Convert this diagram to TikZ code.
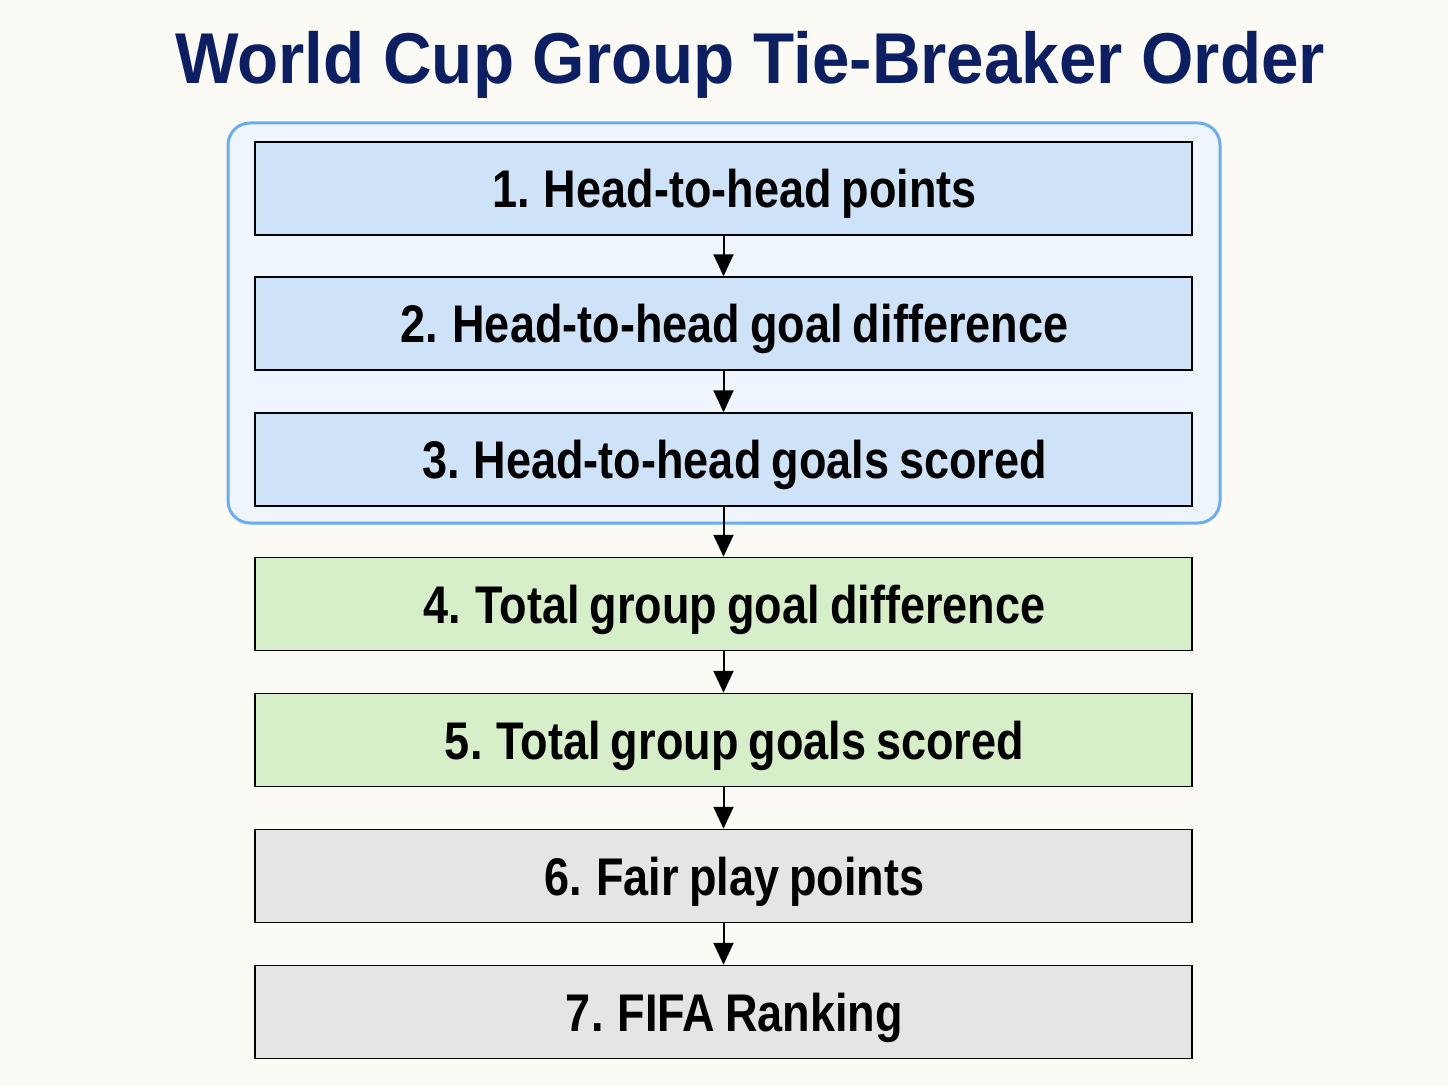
\documentclass[tikz,border=0pt]{standalone}
\usepackage{fontspec}
\setmainfont{Liberation Sans}
\newfontfamily\boxfont[FakeStretch=0.85,WordSpace=0.8]{Liberation Sans}
\newfontfamily\titlefont[FakeStretch=0.935]{Liberation Sans}
\usetikzlibrary{arrows.meta}
\definecolor{bgc}{HTML}{FBFAF4}
\definecolor{navy}{HTML}{0D1F63}
\definecolor{bluef}{HTML}{CFE3F8}
\definecolor{greenf}{HTML}{D6EFC9}
\definecolor{grayf}{HTML}{E5E5E5}
\definecolor{grpline}{HTML}{6AAEF0}
\definecolor{grpfill}{HTML}{EEF5FC}
\begin{document}
\begin{tikzpicture}[x=1pt,y=-1pt,
  stepbox/.style={draw=black, line width=1.5pt, minimum width=937pt, minimum height=93pt,
    inner sep=0pt, text height=38pt, text depth=0pt,
    execute at begin node={\hspace*{22pt}},
    font=\boxfont\bfseries\fontsize{53}{60}\selectfont},
  flow/.style={line width=2pt, -{Triangle[width=20pt,length=22pt]}}]
\fill[bgc] (0,0) rectangle (1448,1086);
\useasboundingbox (0,0) rectangle (1448,1086);
\node[font=\titlefont\bfseries\fontsize{72}{80}\selectfont, text=navy, anchor=base] (title) at (750,84) {World Cup Group Tie-Breaker Order};
\draw[grpline, fill=grpfill, line width=3pt, rounded corners=22pt] (228,123) rectangle (1220,523);
\node[stepbox, fill=bluef] (b1) at (723.5,188.5) {1. Head-to-head points};
\node[stepbox, fill=bluef] (b2) at (723.5,323.5) {2. Head-to-head goal difference};
\node[stepbox, fill=bluef] (b3) at (723.5,459.5) {3. Head-to-head goals scored};
\node[stepbox, fill=greenf] (b4) at (723.5,604) {4. Total group goal difference};
\node[stepbox, fill=greenf] (b5) at (723.5,740) {5. Total group goals scored};
\node[stepbox, fill=grayf] (b6) at (723.5,876) {6. Fair play points};
\node[stepbox, fill=grayf] (b7) at (723.5,1012) {7. FIFA Ranking};
\draw[flow] (b1) -- (b2);
\draw[flow] (b2) -- (b3);
\draw[flow] (b3) -- (b4);
\draw[flow] (b4) -- (b5);
\draw[flow] (b5) -- (b6);
\draw[flow] (b6) -- (b7);
\end{tikzpicture}
\end{document}
